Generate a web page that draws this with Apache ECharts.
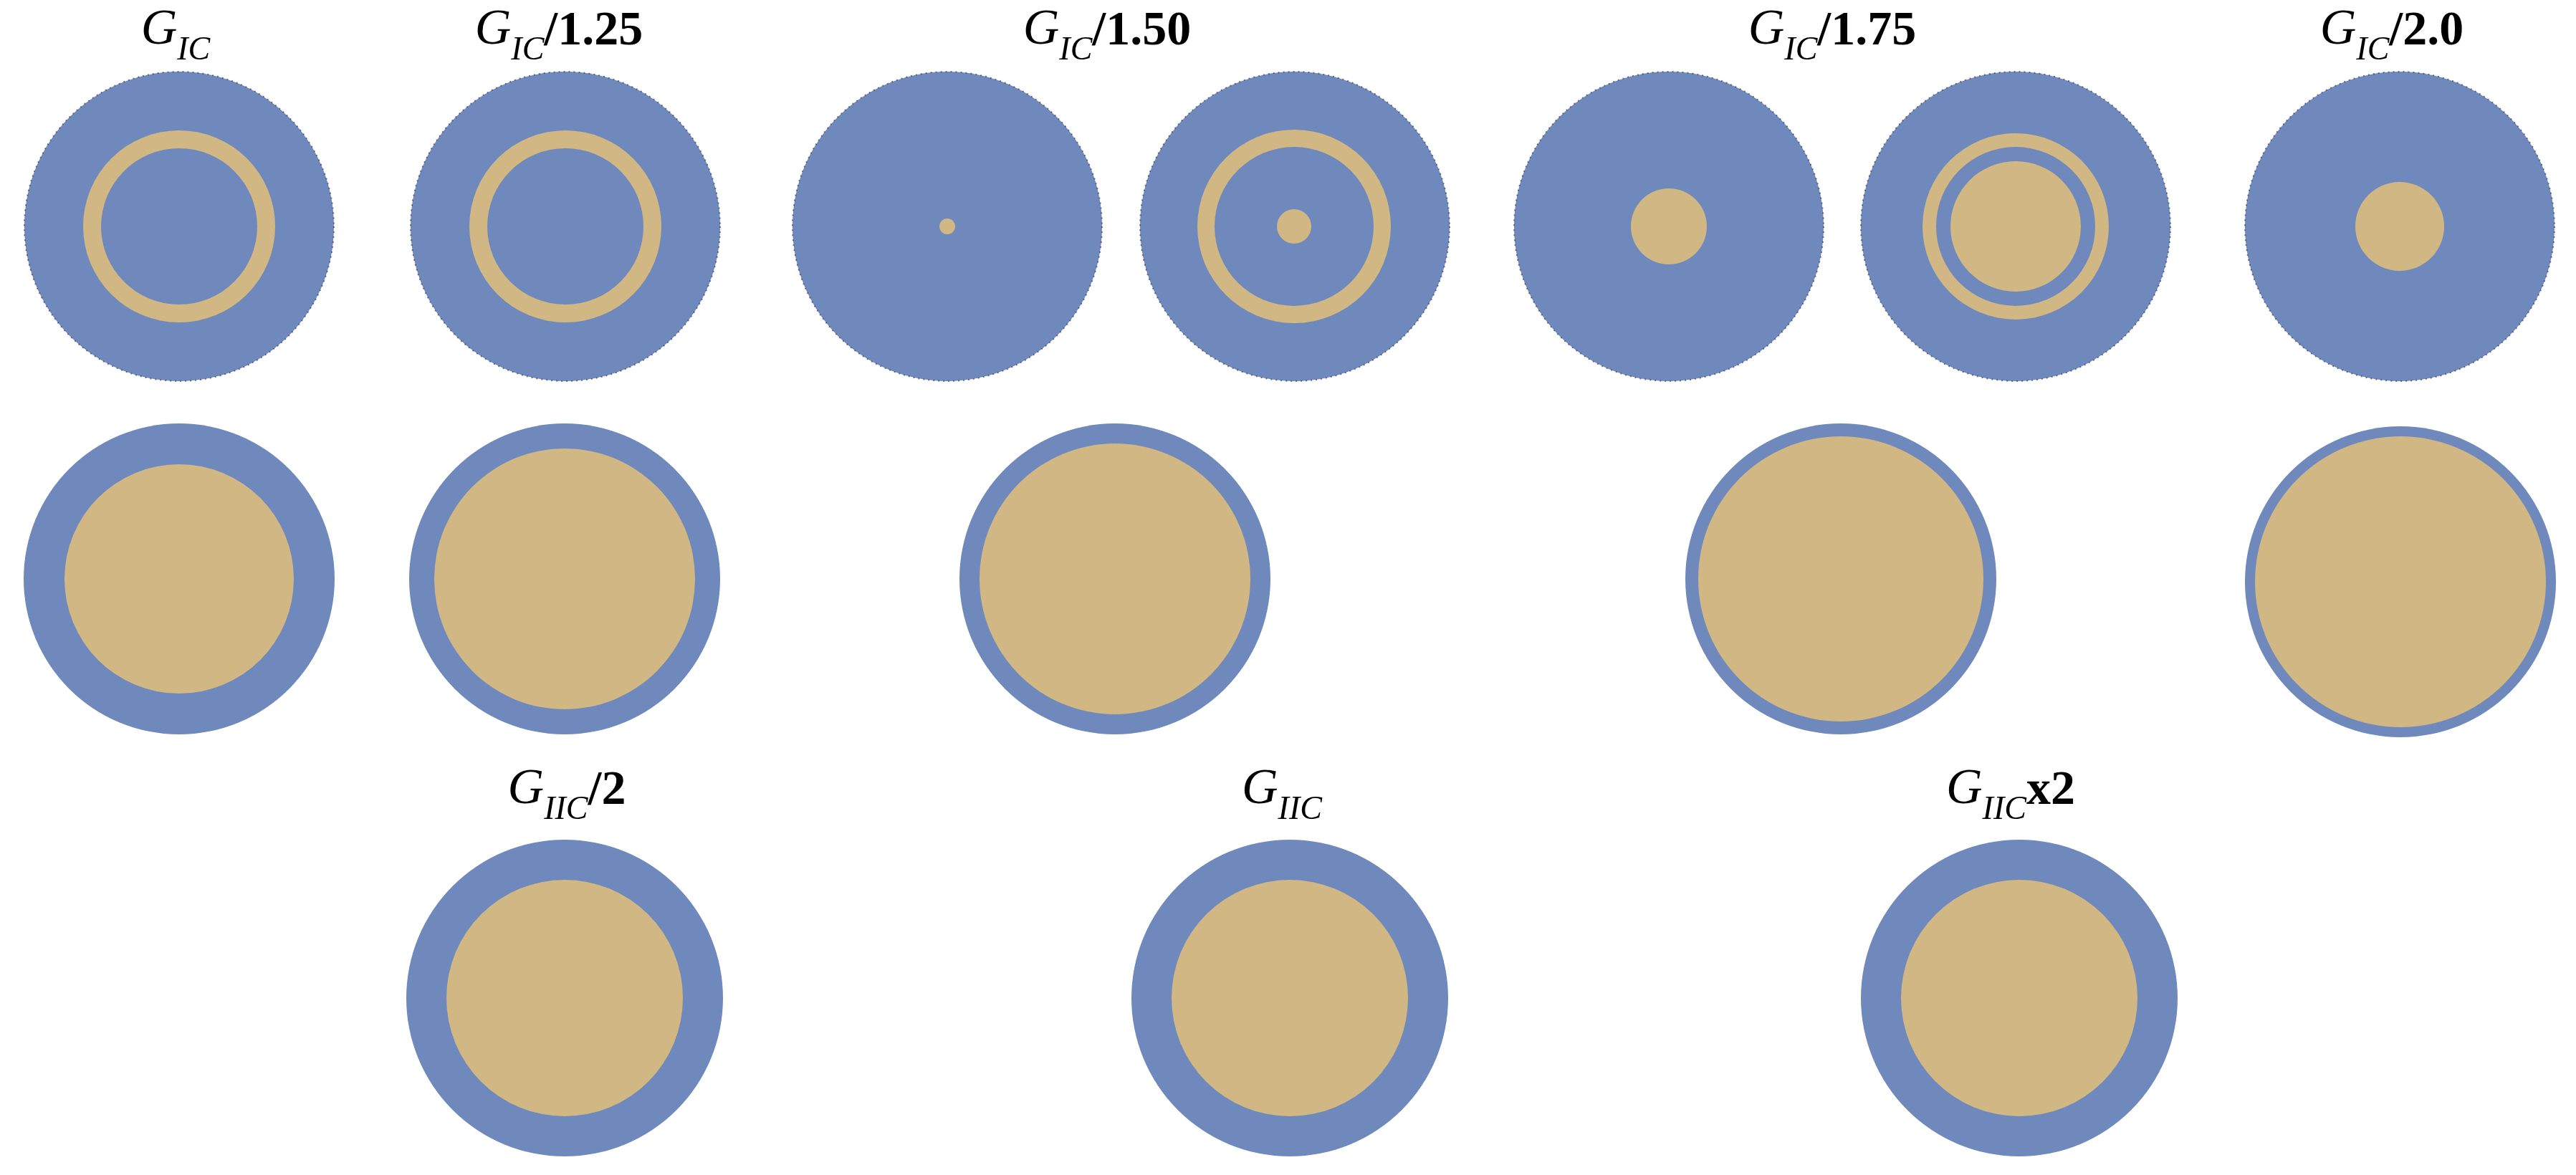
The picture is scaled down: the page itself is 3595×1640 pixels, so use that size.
<!DOCTYPE html>
<html><head><meta charset="utf-8">
<script src="https://cdn.jsdelivr.net/npm/echarts@6/dist/echarts.min.js"></script>
<style>html,body{margin:0;padding:0;background:#fff}#c{width:3595px;height:1640px}</style>
</head><body><div id="c"></div>
<script>
// discs: [centerX, centerY, radius] in figure units
const outerDiscsTop = [
  [250,316,216],[789,316,216],[1322,316,216],[1807,316,216],[2329,316,216],[2813,316,216],[3349,316,216]
];
const outerDiscsLower = [
  [250,808,217],[788,808,217],[1556,808,217],[2569,808,217],[3350,812,217],
  [788,1393,221],[1800,1393,221],[2818,1393,221]
];
const goldDiscs1 = [
  [250,316,134],[789,316,134],[1322,316,11],[1806,316,135],[2329,316,53],[2813,316,130],[3349,316,62],
  [250,808,160],[788,808,182],[1556,808,189],[2569,808,199],[3350,812,203],
  [788,1393,165],[1800,1393,165],[2818,1393,165]
];
const blueDiscs2 = [[250,316,109],[789,316,109],[1806,316,111],[2813,316,111]];
const goldDiscs3 = [[1806,316,24],[2813,316,91]];
// titles
const titleMain = ['G','G','G','G','G','G','G','G'];
const titleSub = ['IC','IC','IC','IC','IC','IIC','IIC','IIC'];
const titleSuffix = ['','/1.25','/1.50','/1.75','/2.0','/2','','x2'];
const titlePos = [[245,78],[780,78],[1545,78],[2557,78],[3338,78],[791,1138],[1789,1138],[2806,1138]];

const BLUE='#6F89BD', GOLD='#D1B783';
function discSeries(data,color,z,stroke){
  return {type:'custom',coordinateSystem:'cartesian2d',z:z,data:data,
    renderItem:function(p,api){
      const c=api.coord([api.value(0),api.value(1)]);
      const r=api.size([api.value(2),0])[0];
      return {type:'circle',shape:{cx:c[0],cy:c[1],r:r},
        style:{fill:color,stroke:stroke?'rgba(40,40,60,0.6)':null,lineWidth:stroke?2:0,lineDash:stroke?[2,5]:null}};
    }};
}
const titleData = titlePos.map((p,i)=>[p[0],p[1],i]);
const chart=echarts.init(document.getElementById('c'));
chart.setOption({
  animation:false,
  grid:{left:0,right:0,top:0,bottom:0},
  xAxis:{type:'value',min:0,max:3595,show:false},
  yAxis:{type:'value',min:0,max:1640,inverse:true,show:false},
  series:[
    discSeries(outerDiscsTop,BLUE,1,true),
    discSeries(outerDiscsLower,BLUE,1,false),
    discSeries(goldDiscs1,GOLD,2,false),
    discSeries(blueDiscs2,BLUE,3,false),
    discSeries(goldDiscs3,GOLD,4,false),
    {type:'custom',coordinateSystem:'cartesian2d',z:5,data:titleData,
      renderItem:function(p,api){
        const i=api.value(2);
        const c=api.coord([api.value(0),api.value(1)]);
        return {type:'text',x:c[0],y:c[1],style:{
          text:'{g|'+titleMain[i]+'}{s|'+titleSub[i]+'}'+(titleSuffix[i]?'{b|'+titleSuffix[i]+'}':''),
          align:'center',verticalAlign:'bottom',
          rich:{
            g:{fontFamily:'Liberation Serif',fontStyle:'italic',fontSize:70,fill:'#000',verticalAlign:'bottom'},
            s:{fontFamily:'Liberation Serif',fontStyle:'italic',fontSize:46,fill:'#000',padding:[0,0,-16,0],verticalAlign:'bottom'},
            b:{fontFamily:'Liberation Serif',fontWeight:'bold',fontSize:68,fill:'#000',verticalAlign:'bottom'}
          }}};
      }}
  ]
});
</script></body></html>
